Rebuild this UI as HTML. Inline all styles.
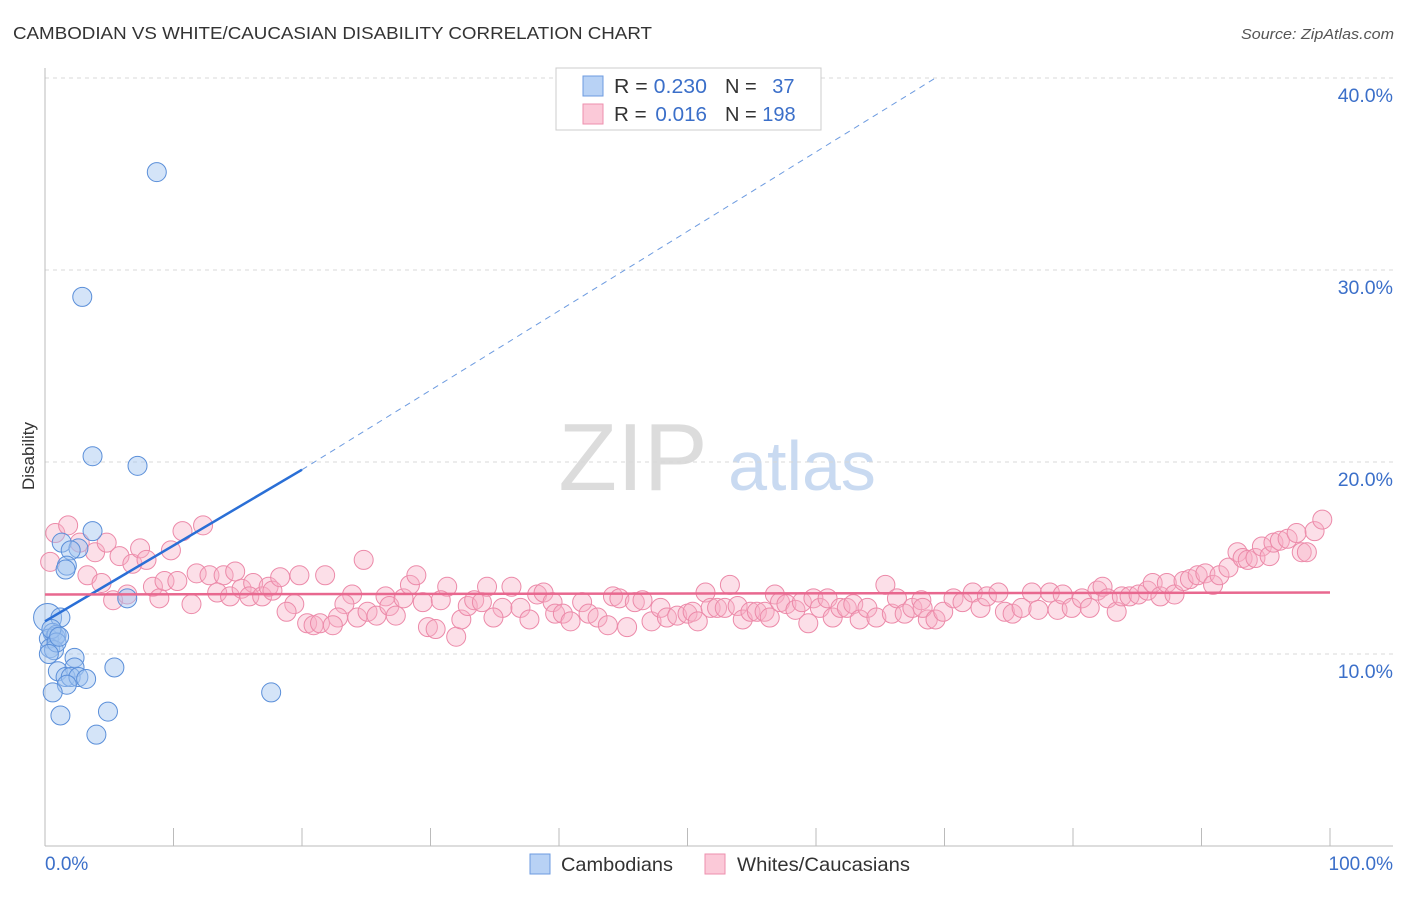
<!DOCTYPE html>
<html><head><meta charset="utf-8"><style>
body{margin:0;background:#fff;font-family:"Liberation Sans",sans-serif;}
svg text{font-family:"Liberation Sans",sans-serif;}
</style></head><body>
<svg id="chart" width="1406" height="892" viewBox="0 0 1406 892" xmlns="http://www.w3.org/2000/svg">
<text x="13" y="39" font-size="17.5" fill="#333" textLength="639" lengthAdjust="spacingAndGlyphs">CAMBODIAN VS WHITE/CAUCASIAN DISABILITY CORRELATION CHART</text>
<text x="1241" y="39" font-size="14.5" fill="#555" font-style="italic" textLength="153" lengthAdjust="spacingAndGlyphs">Source: ZipAtlas.com</text>
<g>
<text x="633" y="490" font-size="96" fill="#dcdcdc" font-family="Liberation Serif,serif" text-anchor="middle">ZIP</text>
<text x="802" y="490" font-size="70" fill="#c9daf1" text-anchor="middle">atlas</text>
</g>
<g id="grid"></g>
<g id="axes"></g>
<text transform="translate(34,456) rotate(-90)" font-size="17" fill="#333" text-anchor="middle">Disability</text>
<g id="pink"></g>
<g id="blue"></g>
<g id="trends"></g>
<g>
<rect x="556" y="68" width="265" height="62" fill="#fff" stroke="#ccc"/>
<rect x="583" y="76" width="20" height="20" fill="#b8d2f5" stroke="#6d9be0"/>
<rect x="583" y="104" width="20" height="20" fill="#fbc9d8" stroke="#ee8fae"/>
<text x="614" y="93" font-size="20" fill="#333" textLength="93" lengthAdjust="spacingAndGlyphs">R = <tspan fill="#3b6fc9">0.230</tspan></text>
<text x="725" y="93" font-size="20" fill="#333">N = <tspan fill="#3b6fc9" dx="10">37</tspan></text>
<text x="614" y="121" font-size="20" fill="#333" textLength="93" lengthAdjust="spacingAndGlyphs">R = <tspan fill="#3b6fc9" dx="3">0.016</tspan></text>
<text x="725" y="121" font-size="20" fill="#333">N = <tspan fill="#3b6fc9">198</tspan></text>
</g>
<g>
<rect x="530" y="854" width="20" height="20" fill="#b8d2f5" stroke="#6d9be0"/>
<text x="561" y="871" font-size="19.5" fill="#333" textLength="112" lengthAdjust="spacingAndGlyphs">Cambodians</text>
<rect x="705" y="854" width="20" height="20" fill="#fbc9d8" stroke="#ee8fae"/>
<text x="737" y="871" font-size="19.5" fill="#333" textLength="173" lengthAdjust="spacingAndGlyphs">Whites/Caucasians</text>
</g>
</svg>
<script>
const yTicks=[10,20,30,40];
const yTickLabels=["10.0%","20.0%","30.0%","40.0%"];
const xTickLabels=["0.0%","100.0%"];
const blueX=[8.7,2.9,3.7,7.2,3.7,1.3,2.6,2.0,1.7,1.6,6.4,0.2,1.2,0.6,0.8,0.3,0.9,0.4,0.7,2.3,5.4,1.0,2.3,1.6,2.0,2.6,3.2,1.7,0.6,17.6,4.9,1.2,4.0,0.5,0.9,1.1,0.3];
const blueY=[35.1,28.6,20.3,19.8,16.4,15.8,15.5,15.4,14.6,14.4,12.9,11.9,11.9,11.1,10.9,10.8,11.0,10.3,10.2,9.8,9.3,9.1,9.3,8.8,8.8,8.8,8.7,8.4,8.0,8.0,7.0,6.8,5.8,11.3,10.6,10.9,10.0];
const pinkX=[0.8,1.8,0.4,2.7,3.9,4.8,5.8,6.8,7.4,7.9,3.3,4.4,5.3,6.4,8.4,8.9,9.3,10.3,9.8,10.7,12.3,11.4,11.8,12.8,13.9,14.8,13.4,14.4,15.3,16.2,15.9,16.9,17.4,17.7,18.3,19.4,18.8,19.8,21.8,24.8,23.9,23.3,22.8,24.3,25.1,25.8,26.5,26.8,27.3,27.9,28.4,28.9,29.4,29.8,30.4,31.3,30.8,32.0,32.4,32.9,33.4,34.0,34.4,20.4,20.9,21.4,22.4,36.3,35.6,34.9,37.0,37.7,38.3,38.8,39.5,39.7,40.3,40.9,41.8,42.3,43.0,43.8,45.3,44.2,44.7,45.9,46.5,47.2,47.9,48.4,49.2,50.0,50.4,50.8,51.4,51.8,52.3,52.9,53.3,53.9,54.3,54.9,55.4,56.0,56.4,56.8,57.2,57.7,58.4,58.9,59.4,59.8,60.3,60.9,61.3,61.9,62.4,62.9,63.4,64.0,64.7,65.4,65.9,66.3,66.9,67.5,68.2,68.7,68.3,69.3,69.9,70.7,71.4,72.2,72.8,73.3,74.2,74.7,75.3,76.0,76.8,77.3,78.2,78.8,79.2,79.9,80.7,81.3,81.9,82.3,82.7,83.4,83.8,84.4,85.1,85.8,86.2,86.8,87.3,87.9,88.6,89.1,89.7,90.3,90.9,91.4,92.1,92.8,93.2,93.6,94.2,94.7,95.3,95.6,96.1,96.7,97.4,97.8,98.2,98.8,99.4];
const pinkY=[16.3,16.7,14.8,15.8,15.3,15.8,15.1,14.7,15.5,14.9,14.1,13.7,12.8,13.1,13.5,12.9,13.8,13.8,15.4,16.4,16.7,12.6,14.2,14.1,14.1,14.3,13.2,13.0,13.4,13.7,13.0,13.0,13.5,13.3,14.0,12.6,12.2,14.1,14.1,14.9,13.1,12.6,11.9,11.9,12.2,12.0,13.0,12.5,12.0,12.9,13.6,14.1,12.7,11.4,11.3,13.5,12.8,10.9,11.8,12.5,12.8,12.7,13.5,11.6,11.5,11.6,11.5,13.5,12.4,11.9,12.4,11.8,13.1,13.2,12.7,12.1,12.1,11.7,12.7,12.1,11.9,11.5,11.4,13.0,12.9,12.7,12.8,11.7,12.4,11.9,12.0,12.1,12.2,11.7,13.2,12.4,12.4,12.4,13.6,12.5,11.8,12.2,12.2,12.2,11.9,13.1,12.7,12.6,12.3,12.7,11.6,12.9,12.4,12.9,11.9,12.4,12.4,12.6,11.8,12.4,11.9,13.6,12.1,12.9,12.1,12.4,12.8,11.8,12.4,11.8,12.2,12.9,12.7,13.2,12.4,13.0,13.2,12.2,12.1,12.4,13.2,12.3,13.2,12.3,13.1,12.4,12.9,12.4,13.3,13.5,12.9,12.2,13.0,13.0,13.1,13.3,13.7,13.0,13.7,13.1,13.8,13.9,14.1,14.2,13.6,14.1,14.5,15.3,15.0,14.9,15.0,15.6,15.1,15.8,15.9,16.0,16.3,15.3,15.3,16.4,17.0];
const blueTrend=[0,11.7,20,19.6,69.3,40];
const pinkTrend=[0,13.1,100,13.2];

const NS="http://www.w3.org/2000/svg";
const X=v=>45+v*12.85;
const Y=v=>846-v*19.2;
function mk(tag,attrs,parent){const e=document.createElementNS(NS,tag);for(const k in attrs)e.setAttribute(k,attrs[k]);parent.appendChild(e);return e;}
const grid=document.getElementById('grid'),axes=document.getElementById('axes');
yTicks.forEach((t,i)=>{
  const l=mk('line',{x1:45,x2:1393,y1:Y(t),y2:Y(t),stroke:'#d8d8d8','stroke-dasharray':'4,4'},grid);
  
  
  const tx=mk('text',{x:1393,y:Y(t)+24,'font-size':19.5,fill:'#3b6fc9','text-anchor':'end'},axes);
  tx.textContent=yTickLabels[i];
  
  
});
mk('line',{x1:45,x2:45,y1:68,y2:846,stroke:'#bbb'},axes);
mk('line',{x1:45,x2:1393,y1:846,y2:846,stroke:'#bbb'},axes);
for(let i=1;i<=10;i++){const t=mk('line',{x1:X(i*10),x2:X(i*10),y1:828,y2:846,stroke:'#bbb'},axes);
  
  }
const x0=mk('text',{x:45,y:870,'font-size':19,fill:'#3b6fc9'},axes);x0.textContent=xTickLabels[0];


const x1=mk('text',{x:1393,y:870,'font-size':19,fill:'#3b6fc9','text-anchor':'end'},axes);x1.textContent=xTickLabels[1];


const pink=document.getElementById('pink');
pinkX.forEach((v,i)=>{const c=mk('circle',{cx:X(v),cy:Y(pinkY[i]),r:9.5,fill:'rgba(248,175,198,0.4)',stroke:'#ec8aa9','stroke-width':1},pink);
  
  });
const blue=document.getElementById('blue');
blueX.forEach((v,i)=>{const c=mk('circle',{cx:X(v),cy:Y(blueY[i]),r:i===11?14:9.5,fill:'rgba(160,195,240,0.45)',stroke:'#5b8fd9','stroke-width':1},blue);
  
  });
const tr=document.getElementById('trends');
const b1=mk('line',{x1:X(blueTrend[0]),y1:Y(blueTrend[1]),x2:X(blueTrend[2]),y2:Y(blueTrend[3]),stroke:'#2a6fd6','stroke-width':2.5},tr);


const b2=mk('line',{x1:X(blueTrend[2]),y1:Y(blueTrend[3]),x2:X(blueTrend[4]),y2:Y(blueTrend[5]),stroke:'#6d9be0','stroke-width':1,'stroke-dasharray':'6,5'},tr);


const p1=mk('line',{x1:X(pinkTrend[0]),y1:Y(pinkTrend[1]),x2:X(pinkTrend[2]),y2:Y(pinkTrend[3]),stroke:'#e8688f','stroke-width':2.5},tr);


</script>
</body></html>
